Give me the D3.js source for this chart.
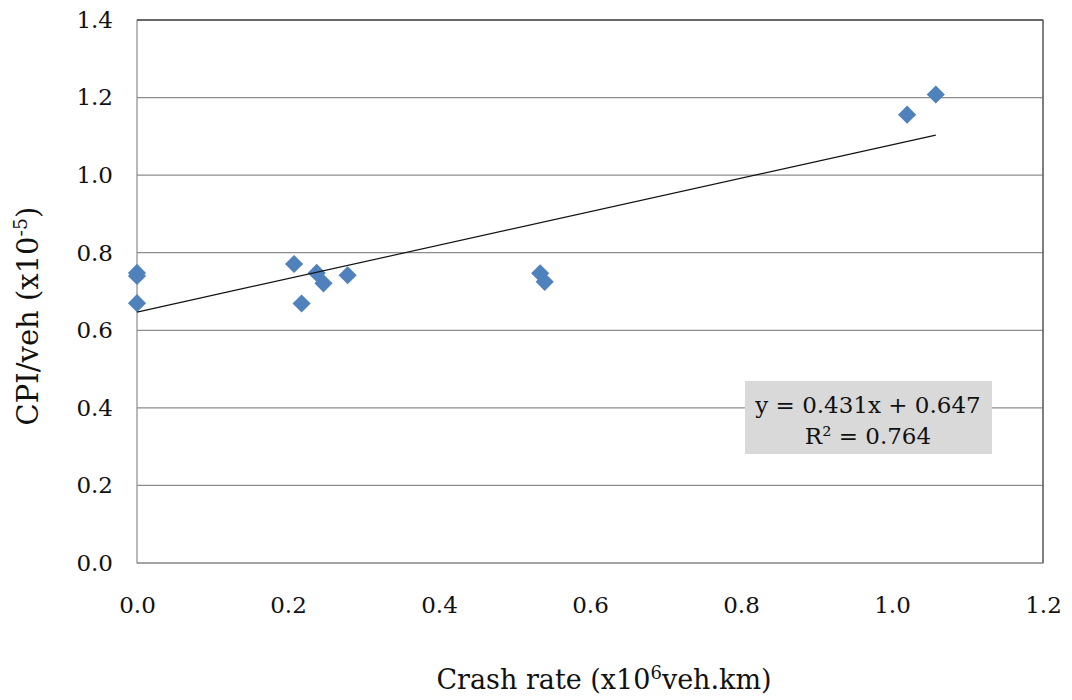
<!DOCTYPE html>
<html>
<head>
<meta charset="utf-8">
<script src="https://cdn.jsdelivr.net/npm/d3@7/dist/d3.min.js"></script>
<style>
  html, body { margin: 0; padding: 0; background: #fff; }
  svg { display: block; }
  text { font-family: "DejaVu Serif", "Liberation Serif", serif; fill: #111; }
</style>
</head>
<body>
<svg id="chart" width="1072" height="700"></svg>
<script>
// Crash rate (x10^6 veh.km) against CPI per vehicle (x10^-5)
const crashRate = [0.000, 0.000, 0.000, 0.208, 0.218, 0.238, 0.247, 0.279, 0.534, 0.540, 1.020, 1.058];
const cpiPerVeh = [0.748, 0.740, 0.670, 0.771, 0.669, 0.748, 0.721, 0.742, 0.747, 0.725, 1.156, 1.208];
const xTicks = [0.0, 0.2, 0.4, 0.6, 0.8, 1.0, 1.2];
const yTicks = [0.0, 0.2, 0.4, 0.6, 0.8, 1.0, 1.2, 1.4];
// Linear fit as reported on the chart
const fitSlope = 0.431;
const fitIntercept = 0.647;
const fitR2 = 0.764;

const svg = d3.select("#chart");
const plot = { left: 137, right: 1043, top: 20, bottom: 563 };

const x = d3.scaleLinear().domain([0, 1.2]).range([plot.left, plot.right]);
const y = d3.scaleLinear().domain([0, 1.4]).range([plot.bottom, plot.top]);

const fmt = d3.format(".1f");

// Horizontal gridlines
svg.append("g")
  .selectAll("line")
  .data(yTicks)
  .join("line")
  .attr("x1", plot.left).attr("x2", plot.right)
  .attr("y1", d => y(d)).attr("y2", d => y(d))
  .attr("stroke", "#8c8c8c")
  .attr("stroke-width", 1.2);

// Plot frame
svg.append("rect")
  .attr("x", plot.left).attr("y", plot.top)
  .attr("width", plot.right - plot.left)
  .attr("height", plot.bottom - plot.top)
  .attr("fill", "none")
  .attr("stroke", "#8c8c8c")
  .attr("stroke-width", 1.2);
svg.append("line")
  .attr("x1", plot.left).attr("x2", plot.right)
  .attr("y1", y(1.4)).attr("y2", y(1.4))
  .attr("stroke", "#555").attr("stroke-width", 1.4);
svg.append("line")
  .attr("x1", plot.right).attr("x2", plot.right)
  .attr("y1", plot.top).attr("y2", plot.bottom)
  .attr("stroke", "#666").attr("stroke-width", 1.4);

// Axes (labels only)
const yAxis = svg.append("g")
  .attr("transform", `translate(${plot.left},0)`)
  .call(d3.axisLeft(y).tickValues(yTicks).tickFormat(fmt).tickSize(0).tickPadding(24));
yAxis.select(".domain").remove();
yAxis.selectAll("text")
  .attr("font-size", 23)
  .attr("font-family", "DejaVu Serif, Liberation Serif, serif")
  .attr("fill", "#111");

const xAxis = svg.append("g")
  .attr("transform", `translate(0,${plot.bottom})`)
  .call(d3.axisBottom(x).tickValues(xTicks).tickFormat(fmt).tickSize(0).tickPadding(34));
xAxis.select(".domain").remove();
xAxis.selectAll("text")
  .attr("font-size", 23)
  .attr("font-family", "DejaVu Serif, Liberation Serif, serif")
  .attr("fill", "#111");

// Data points as diamonds
const diamond = d3.symbol().type(d3.symbolDiamond2).size(210);
svg.append("g")
  .selectAll("path")
  .data(crashRate.map((c, i) => [c, cpiPerVeh[i]]))
  .join("path")
  .attr("d", diamond)
  .attr("transform", d => `translate(${x(d[0])},${y(d[1])})`)
  .attr("fill", "#4f81bd");

// Trend line across the data range
const xMin = d3.min(crashRate), xMax = d3.max(crashRate);
svg.append("line")
  .attr("x1", x(xMin)).attr("y1", y(fitSlope * xMin + fitIntercept))
  .attr("x2", x(xMax)).attr("y2", y(fitSlope * xMax + fitIntercept))
  .attr("stroke", "#111")
  .attr("stroke-width", 1.2);

// Equation box
svg.append("rect")
  .attr("x", 745).attr("y", 381)
  .attr("width", 247).attr("height", 73)
  .attr("fill", "#d9d9d9");
svg.append("text")
  .attr("x", 868).attr("y", 413)
  .attr("text-anchor", "middle")
  .attr("font-size", 23)
  .text(`y = ${fitSlope}x + ${fitIntercept}`);
svg.append("text")
  .attr("x", 868).attr("y", 444)
  .attr("text-anchor", "middle")
  .attr("font-size", 23)
  .text(`R² = ${fitR2}`);

// Axis titles
const xTitle = svg.append("text")
  .attr("x", 604).attr("y", 689)
  .attr("text-anchor", "middle")
  .attr("font-size", 27);
xTitle.append("tspan").text("Crash rate (x10");
xTitle.append("tspan").attr("dy", -10).attr("font-size", 18).text("6");
xTitle.append("tspan").attr("dy", 10).text("veh.km)");

const yTitle = svg.append("text")
  .attr("transform", "translate(38,316) rotate(-90)")
  .attr("text-anchor", "middle")
  .attr("font-size", 29);
yTitle.append("tspan").text("CPI/veh (x10");
yTitle.append("tspan").attr("dy", -11).attr("font-size", 19).text("-5");
yTitle.append("tspan").attr("dy", 11).text(")");
</script>
</body>
</html>
